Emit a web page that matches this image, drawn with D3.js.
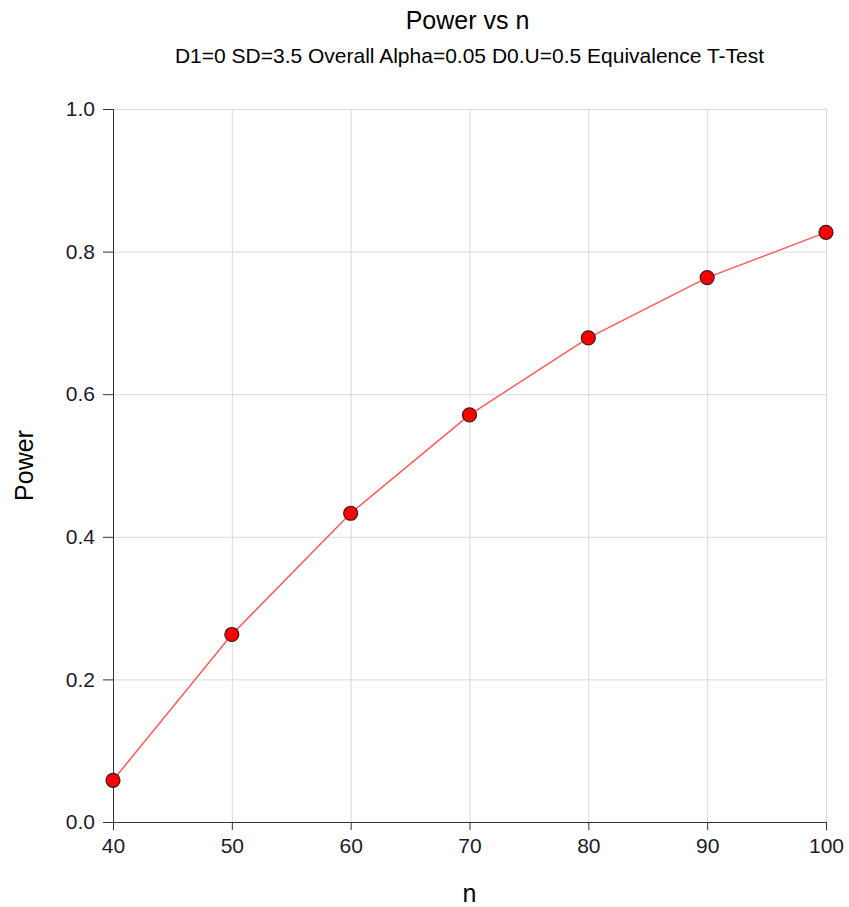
<!DOCTYPE html>
<html>
<head>
<meta charset="utf-8">
<script src="https://cdn.jsdelivr.net/npm/d3@7"></script>
<style>
  body { margin: 0; background: #fff; }
  text { font-family: "Liberation Sans", Arial, sans-serif; fill: #000; }
  .axis text { font-size: 21px; fill: #1a1a2e; }
  .axis path, .axis line { stroke: #333; }
  .grid line { stroke: #d9d9d9; }
  .grid path { display: none; }
</style>
</head>
<body>
<svg width="849" height="907"></svg>
<script>
var nValues = [40, 50, 60, 70, 80, 90, 100];
var power = [0.0585, 0.263, 0.433, 0.571, 0.679, 0.7635, 0.827];
var xTicks = [40, 50, 60, 70, 80, 90, 100];
var yTicks = [0.0, 0.2, 0.4, 0.6, 0.8, 1.0];

var svg = d3.select("svg");
var margin = {left: 113, right: 23, top: 109, bottom: 85};
var width = +svg.attr("width") - margin.left - margin.right;
var height = +svg.attr("height") - margin.top - margin.bottom;

var x = d3.scaleLinear().domain([40, 100]).range([0, width]);
var y = d3.scaleLinear().domain([0, 1]).range([height, 0]);

var g = svg.append("g")
    .attr("transform", "translate(" + margin.left + "," + margin.top + ")");

// grid lines
g.append("g")
    .attr("class", "grid")
    .attr("transform", "translate(0," + height + ")")
    .call(d3.axisBottom(x).tickValues(xTicks).tickSize(-height).tickFormat(""));
g.append("g")
    .attr("class", "grid")
    .call(d3.axisLeft(y).tickValues(yTicks).tickSize(-width).tickFormat(""));

// axes
g.append("g")
    .attr("class", "axis")
    .attr("transform", "translate(0," + height + ")")
    .call(d3.axisBottom(x).tickValues(xTicks).tickSize(8).tickSizeOuter(0).tickPadding(8))
    .call(function(a) { a.select(".domain").attr("d", "M-10,0.5H" + width); });
g.append("g")
    .attr("class", "axis")
    .call(d3.axisLeft(y).tickValues(yTicks).tickFormat(d3.format(".1f")).tickSize(10).tickSizeOuter(0).tickPadding(8))
    .call(function(a) { a.select(".domain").attr("d", "M0.5," + (height + 8) + "V0"); });

// line + points
var line = d3.line()
    .x(function(d, i) { return x(nValues[i]); })
    .y(function(d) { return y(d); });

g.append("path")
    .datum(power)
    .attr("fill", "none")
    .attr("stroke", "#ff5a5a")
    .attr("stroke-width", 1.5)
    .attr("d", line);

g.selectAll("circle")
    .data(power)
  .enter().append("circle")
    .attr("cx", function(d, i) { return x(nValues[i]); })
    .attr("cy", function(d) { return y(d); })
    .attr("r", 7)
    .attr("fill", "#ff0000")
    .attr("stroke", "#3a1a1a")
    .attr("stroke-width", 1.2);

// titles
var cx = margin.left + width / 2;
svg.append("text")
    .attr("x", cx - 2).attr("y", 29)
    .attr("text-anchor", "middle")
    .style("font-size", "25px")
    .text("Power vs n");
svg.append("text")
    .attr("x", cx).attr("y", 63)
    .attr("text-anchor", "middle")
    .style("font-size", "21px")
    .text("D1=0 SD=3.5 Overall Alpha=0.05 D0.U=0.5 Equivalence T-Test");

svg.append("text")
    .attr("x", cx).attr("y", 902)
    .attr("text-anchor", "middle")
    .style("font-size", "25px")
    .text("n");
svg.append("text")
    .attr("transform", "translate(33," + (margin.top + height / 2) + ") rotate(-90)")
    .attr("text-anchor", "middle")
    .style("font-size", "25px")
    .text("Power");
</script>
</body>
</html>
